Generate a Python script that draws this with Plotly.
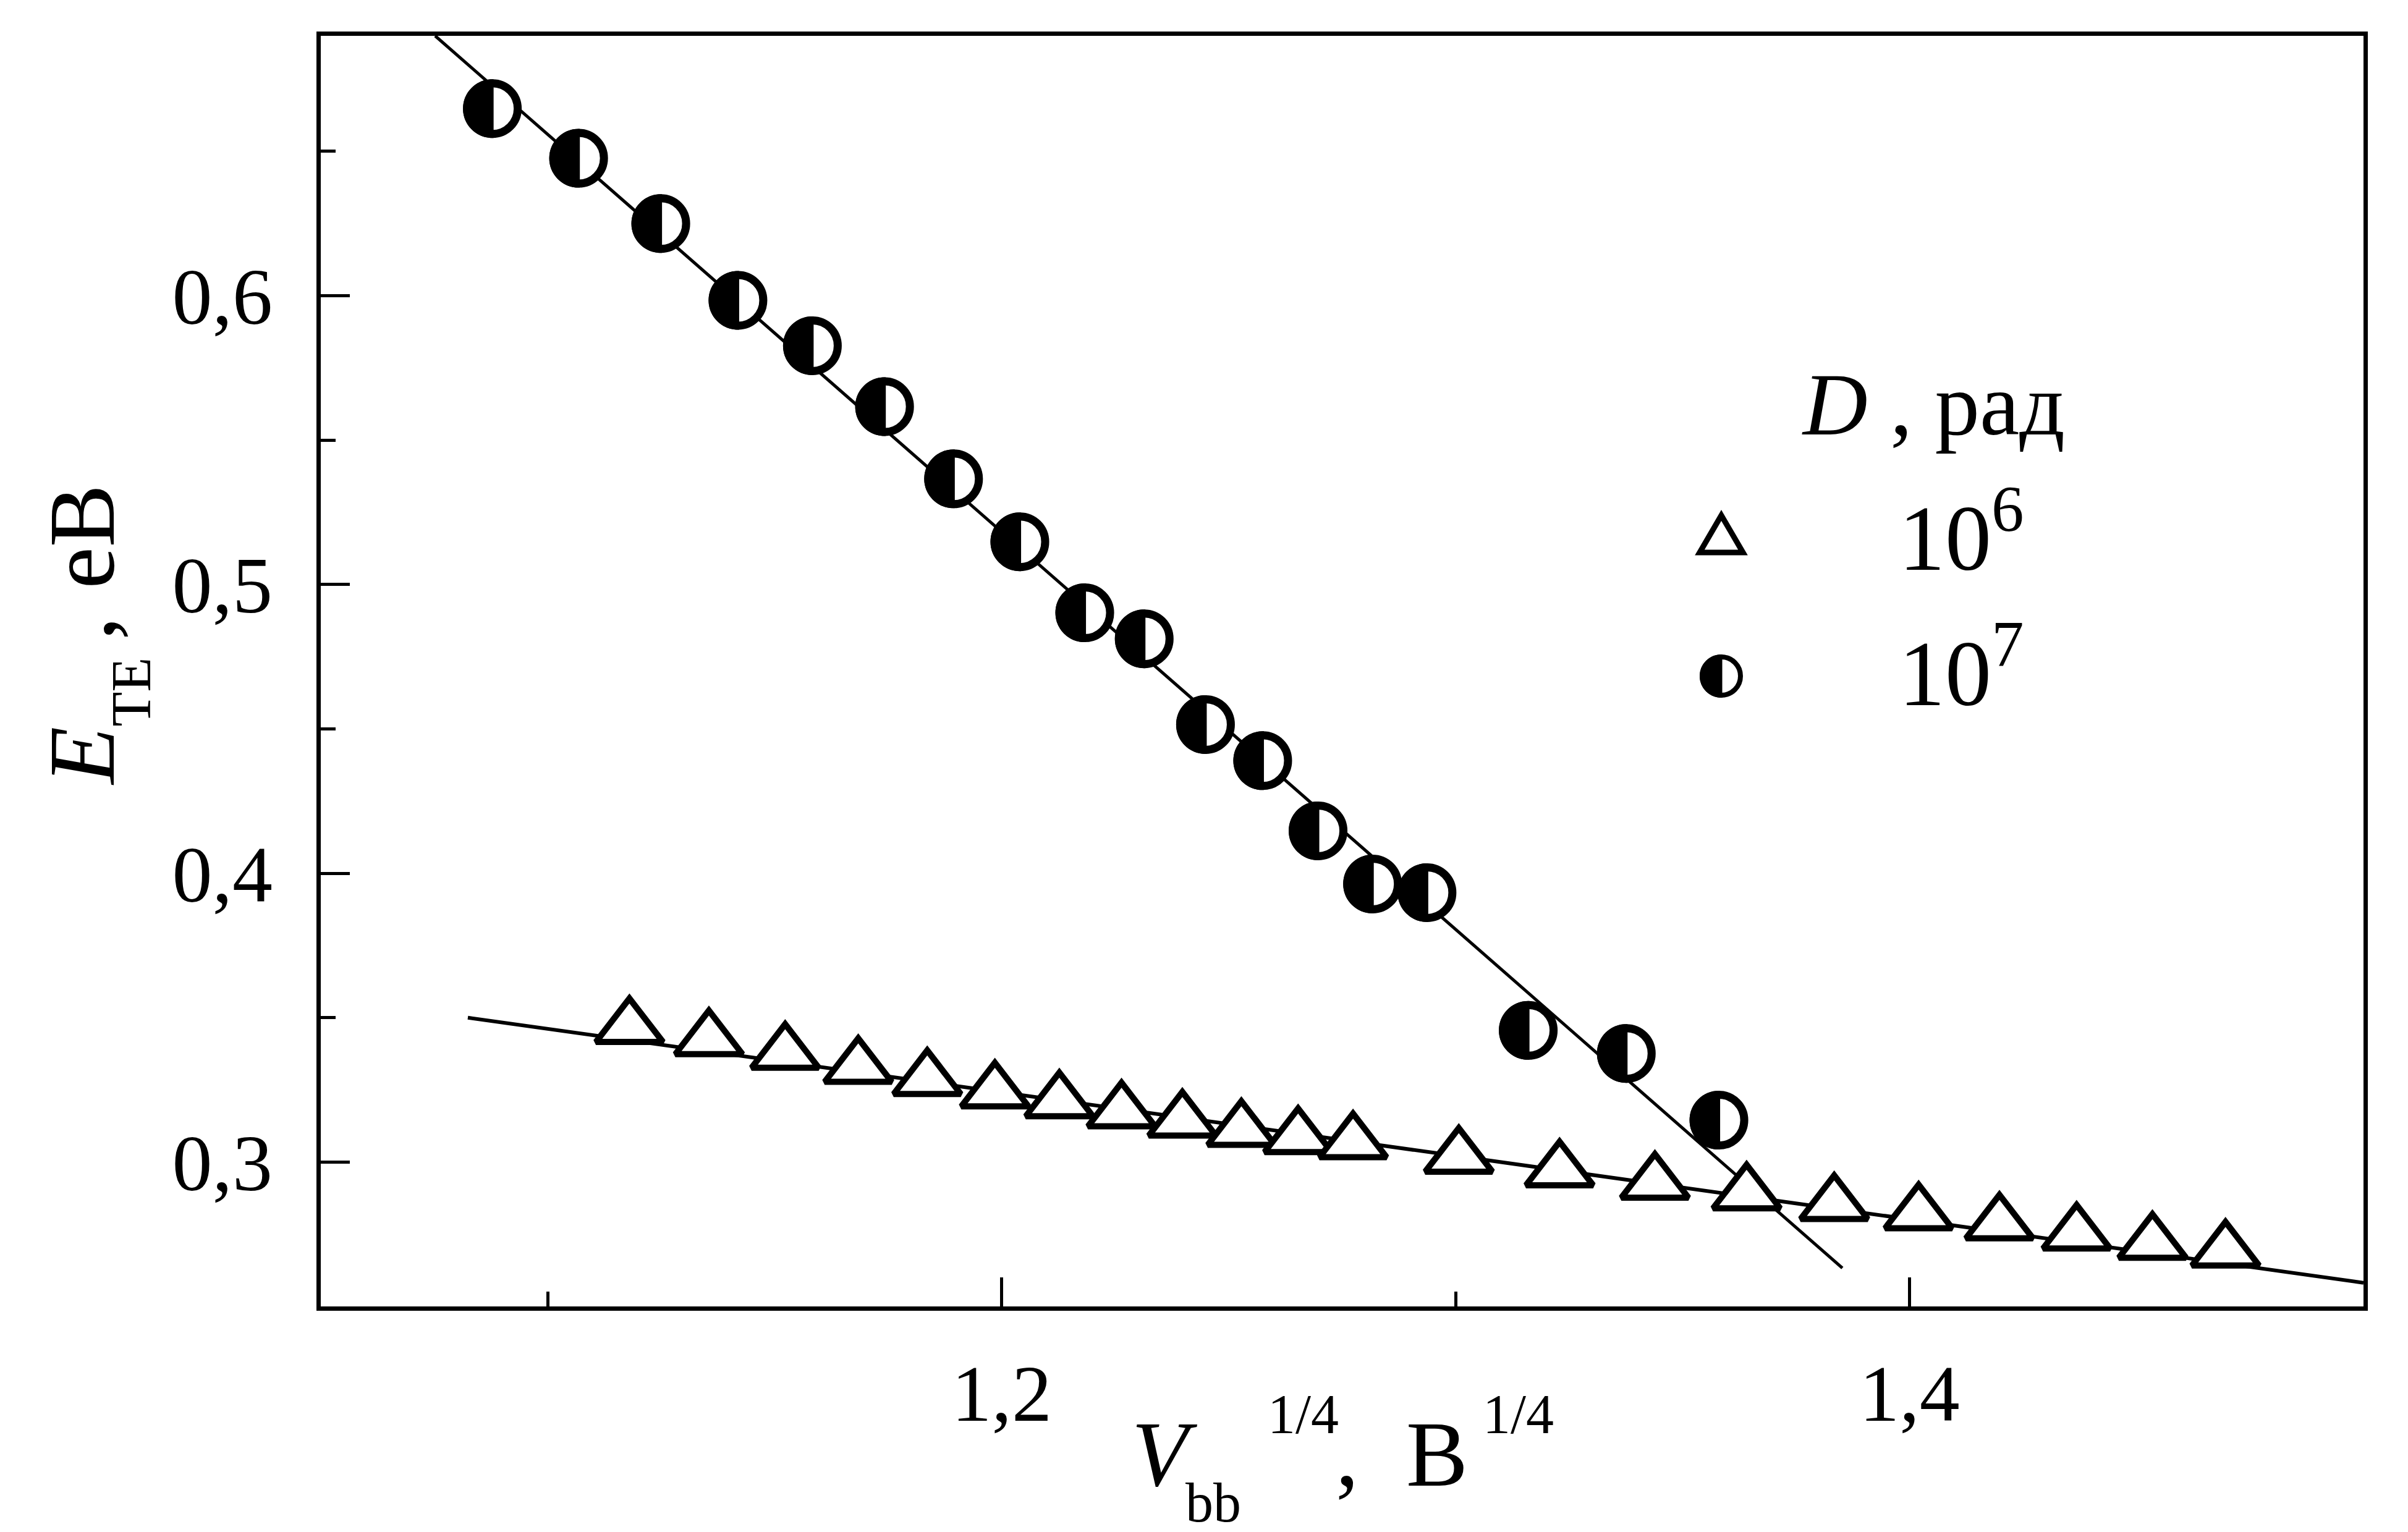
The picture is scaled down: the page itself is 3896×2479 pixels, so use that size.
import numpy as np
import plotly.graph_objects as go

# ---------------- data ----------------
# D = 10^7 rad : half-filled circles
circ_x = [1.0878, 1.1068, 1.1249, 1.1419, 1.1583, 1.1742, 1.1894, 1.2040, 1.2183,
          1.2314, 1.2449, 1.2575, 1.2697, 1.2817, 1.2937, 1.3160, 1.3376, 1.3580]
circ_y = [0.6648, 0.6476, 0.6250, 0.5984, 0.5827, 0.5616, 0.5366, 0.5148, 0.4902,
          0.4812, 0.4515, 0.4390, 0.4147, 0.3963, 0.3933, 0.3456, 0.3376, 0.3145]

# D = 10^6 rad : open triangles
tri_x = [1.1180, 1.1355, 1.1523, 1.1684, 1.1836, 1.1985, 1.2127, 1.2264, 1.2398, 1.2528, 1.2653,
         1.2774, 1.3007, 1.3229, 1.3439, 1.3641, 1.3834, 1.4020, 1.4198, 1.4368, 1.4535, 1.4696]
tri_y = [0.3466, 0.3424, 0.3377, 0.3328, 0.3286, 0.3243, 0.3209, 0.3174, 0.3142, 0.3110, 0.3085,
         0.3067, 0.3017, 0.2970, 0.2927, 0.2890, 0.2853, 0.2821, 0.2786, 0.2751, 0.2719, 0.2692]

# straight fit lines
fit_steep_x = [1.0752, 1.3852]
fit_steep_y = [0.6900, 0.2633]
fit_flat_x = [1.0824, 1.5000]
fit_flat_y = [0.3500, 0.2582]

# axes
x_range = [1.05, 1.50]
y_range = [0.25, 0.69]
x_tickvals = [1.2, 1.4]
x_ticktext = ["1,2", "1,4"]
x_minor = [1.1, 1.3]
y_tickvals = [0.3, 0.4, 0.5, 0.6]
y_ticktext = ["0,3", "0,4", "0,5", "0,6"]
y_minor = [0.35, 0.45, 0.55, 0.65]

legend_title = "<i>D</i> , рад"
legend_labels = ["10<sup>6</sup>", "10<sup>7</sup>"]

# ---------------- layout geometry ----------------
W, H = 3896, 2479
ML, MR, MT, MB = 511, 80, 50, 373
PW = W - ML - MR
PH = H - MT - MB
FONT = "Liberation Serif"


def px(X):
    return (X - ML) / PW


def py(Y):
    return (H - MB - Y) / PH


def half_disk_path(r, n=48, xoff=2.0):
    d = "M %.2f,%.2f" % (xoff, r)
    for i in range(n + 1):
        a = np.pi / 2 + np.pi * i / n
        d += " L %.2f,%.2f" % (r * np.cos(a), r * np.sin(a))
    d += " L %.2f,%.2f Z" % (xoff, -r)
    return d


fig = go.Figure()

fig.add_trace(go.Scatter(x=fit_steep_x, y=fit_steep_y, mode="lines",
                         line=dict(color="black", width=5), hoverinfo="skip"))
fig.add_trace(go.Scatter(x=fit_flat_x, y=fit_flat_y, mode="lines",
                         line=dict(color="black", width=6), hoverinfo="skip"))
fig.add_trace(go.Scatter(x=tri_x, y=tri_y, mode="markers", name="10^6",
                         marker=dict(symbol="triangle-up", size=94, color="white",
                                     line=dict(color="black", width=10))))
fig.add_trace(go.Scatter(x=circ_x, y=circ_y, mode="markers", name="10^7",
                         marker=dict(symbol="circle", size=82, color="white",
                                     line=dict(color="black", width=13))))

shapes = []
hd = half_disk_path(47.5)
for cx, cy in zip(circ_x, circ_y):
    shapes.append(dict(type="path", xref="x", yref="y", xsizemode="pixel", ysizemode="pixel",
                       xanchor=cx, yanchor=cy, path=hd, fillcolor="black",
                       line=dict(width=0), layer="above"))

# legend symbols
LX = 2777
tri_path = "M 0,40 L 35,-20 L -35,-20 Z"
shapes.append(dict(type="path", xref="paper", yref="paper", xsizemode="pixel", ysizemode="pixel",
                   xanchor=px(LX), yanchor=py(866), path=tri_path, fillcolor="white",
                   line=dict(color="black", width=9), layer="above"))
shapes.append(dict(type="circle", xref="paper", yref="paper", xsizemode="pixel", ysizemode="pixel",
                   xanchor=px(LX), yanchor=py(1086), x0=-31, x1=31, y0=-31, y1=31,
                   fillcolor="white", line=dict(color="black", width=8), layer="above"))
shapes.append(dict(type="path", xref="paper", yref="paper", xsizemode="pixel", ysizemode="pixel",
                   xanchor=px(LX), yanchor=py(1086), path=half_disk_path(35, xoff=1.5),
                   fillcolor="black", line=dict(width=0), layer="above"))

FB, FS = 150, 90


def ann(text, X, Y, size, xanchor="center", yanchor="bottom", angle=0):
    return dict(text=text, x=px(X), y=py(Y), xref="paper", yref="paper", showarrow=False,
                xanchor=xanchor, yanchor=yanchor, textangle=angle,
                font=dict(family=FONT, size=size, color="black"))


annotations = []
# legend texts
annotations.append(ann(legend_title, 2905, 696 + 0.216 * 145 + 1, 145, xanchor="left"))
annotations.append(ann(legend_labels[0], 3062, 915 + 0.216 * FB + 1, FB, xanchor="left"))
annotations.append(ann(legend_labels[1], 3062, 1134 + 0.216 * FB + 1, FB, xanchor="left"))

# x axis title pieces: V_bb^1/4 ,  B^1/4
annotations.append(ann("<i>V</i>", 1876, 2397 + 0.216 * FB + 1, FB))
annotations.append(ann("bb", 1955, 2455 + 0.216 * FS + 1, FS))
annotations.append(ann("1/4", 2100, 2312 + 0.216 * FS + 1, FS))
annotations.append(ann(",", 2172, 2397 + 0.216 * FB + 1, FB))
annotations.append(ann("B", 2317, 2397 + 0.216 * FB + 1, FB))
annotations.append(ann("1/4", 2448, 2312 + 0.216 * FS + 1, FS))

# y axis title pieces (rotated): E_TE , eB
annotations.append(ann("<i>E</i>", 177 + 0.216 * 152 + 1, 1215, 152, xanchor="right", yanchor="middle", angle=-90))
annotations.append(ann("TE", 236 + 0.216 * 92 + 1, 1112, 92, xanchor="right", yanchor="middle", angle=-90))
annotations.append(ann(",", 177 + 0.216 * 152 + 1, 1009, 152, xanchor="right", yanchor="middle", angle=-90))
annotations.append(ann("eB", 177 + 0.216 * 152 + 1, 860, 152, xanchor="right", yanchor="middle", angle=-90))

axis_common = dict(showgrid=False, zeroline=False, showline=True, linecolor="black",
                   linewidth=7, mirror=True, ticks="inside", ticklen=47, tickwidth=5,
                   tickcolor="black", tickmode="array",
                   tickfont=dict(family=FONT, size=130, color="black"))

fig.update_layout(
    width=W, height=H,
    margin=dict(l=ML, r=MR, t=MT, b=MB, pad=0),
    paper_bgcolor="white", plot_bgcolor="white",
    showlegend=False,
    xaxis=dict(range=x_range, tickvals=x_tickvals, ticktext=x_ticktext,
               ticklabelstandoff=22,
               minor=dict(tickmode="array", tickvals=x_minor, ticks="inside", ticklen=24,
                          tickwidth=5, tickcolor="black", showgrid=False),
               **axis_common),
    yaxis=dict(range=y_range, tickvals=y_tickvals, ticktext=y_ticktext,
               ticklabelstandoff=45,
               minor=dict(tickmode="array", tickvals=y_minor, ticks="inside", ticklen=24,
                          tickwidth=5, tickcolor="black", showgrid=False),
               **axis_common),
    shapes=shapes,
    annotations=annotations,
)

fig.write_html("out.html")
